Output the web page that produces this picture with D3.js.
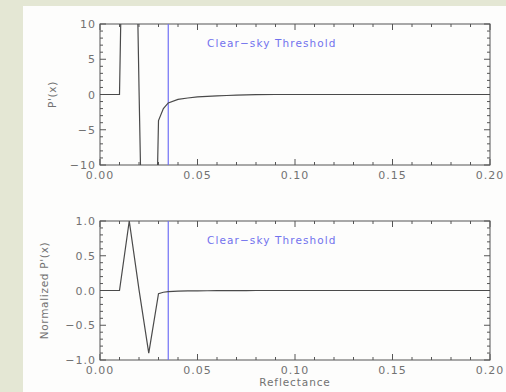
<!DOCTYPE html>
<html>
<head>
<meta charset="utf-8">
<script src="https://cdn.jsdelivr.net/npm/d3@7"></script>
<style>
  body { margin: 0; background: #fff; }
  text { font-family: 'DejaVu Sans', sans-serif; fill: #727272; }
</style>
</head>
<body>
<svg id="chart" width="506" height="392"></svg>
<script>
// reflectance samples and first derivative P'(x)
var reflectance = [0, 0.005, 0.01, 0.015, 0.02, 0.025, 0.03, 0.0325, 0.035, 0.04, 0.045, 0.05, 0.055, 0.06, 0.065, 0.07, 0.075, 0.08, 0.09, 0.10, 0.11, 0.12, 0.13, 0.14, 0.15, 0.16, 0.17, 0.18, 0.19, 0.20]
var deriv       = [0, 0, 0, 80, 1, -72, -3.7, -2.0, -1.2, -0.7, -0.5, -0.35, -0.28, -0.2, -0.14, -0.09, -0.05, -0.02, 0, 0, 0, 0, 0, 0, 0, 0, 0, 0, 0, 0]
var threshold = 0.035
var xTicks = [0, 0.05, 0.10, 0.15, 0.20]
var yTicksTop = [-10, -5, 0, 5, 10]
var yTicksBot = [-1, -0.5, 0, 0.5, 1]

var peak = d3.max(deriv)
var normalized = deriv.map(v => v / peak)

var svg = d3.select('#chart')
svg.append('rect').attr('width', 506).attr('height', 392).attr('fill', '#e4e7d4')
svg.append('rect').attr('x', 23).attr('y', 6).attr('width', 483).attr('height', 386).attr('fill', '#fdfdfc')

var x = d3.scaleLinear().domain([0, 0.2]).range([100, 490])

function panel(id, top, bottom, yDomain, yMajor, yMinorStep, yFmt, series, ylab, ylabX, showXTitle) {
  var y = d3.scaleLinear().domain(yDomain).range([bottom, top])
  var g = svg.append('g')

  g.append('clipPath').attr('id', id)
    .append('rect').attr('x', 100).attr('y', top).attr('width', 390).attr('height', bottom - top)

  // minor + major ticks on all four sides, pointing inward
  var xMinor = d3.range(0, 0.2001, 0.01)
  var yMinor = d3.range(yDomain[0], yDomain[1] + yMinorStep / 2, yMinorStep)
  var tickG = g.append('g').attr('stroke', '#555').attr('stroke-width', 1)
  xMinor.forEach(function(v, i) {
    var len = i % 5 === 0 ? 6 : 3
    tickG.append('line').attr('x1', x(v)).attr('x2', x(v)).attr('y1', bottom).attr('y2', bottom - len)
    tickG.append('line').attr('x1', x(v)).attr('x2', x(v)).attr('y1', top).attr('y2', top + len)
  })
  yMinor.forEach(function(v, i) {
    var len = i % 5 === 0 ? 6 : 3
    tickG.append('line').attr('x1', 100).attr('x2', 100 + len).attr('y1', y(v)).attr('y2', y(v))
    tickG.append('line').attr('x1', 490).attr('x2', 490 - len).attr('y1', y(v)).attr('y2', y(v))
  })

  g.append('rect').attr('x', 100).attr('y', top).attr('width', 390).attr('height', bottom - top)
    .attr('fill', 'none').attr('stroke', '#555').attr('stroke-width', 1)

  g.selectAll('.xl').data(xTicks).enter().append('text')
    .attr('x', d => x(d)).attr('y', bottom + 14)
    .attr('text-anchor', 'middle').style('font-size', '11px').style('letter-spacing', '1px')
    .text(d => d3.format('.2f')(d))

  g.selectAll('.yl').data(yMajor).enter().append('text')
    .attr('x', 96).attr('y', d => y(d) + 4)
    .attr('text-anchor', 'end').style('font-size', '11px').style('letter-spacing', '1px')
    .text(d => yFmt(d).replace('-', '\u2212'))

  g.append('text')
    .attr('transform', 'translate(' + ylabX + ',' + ((top + bottom) / 2) + ') rotate(-90)')
    .attr('text-anchor', 'middle').style('font-size', '10.5px').style('letter-spacing', '0.7px')
    .text(ylab)

  if (showXTitle) {
    g.append('text').attr('x', x(0.1)).attr('y', bottom + 26)
      .attr('text-anchor', 'middle').style('font-size', '10.5px').style('letter-spacing', '0.9px')
      .text('Reflectance')
  }

  g.append('line')
    .attr('x1', x(threshold)).attr('x2', x(threshold)).attr('y1', top).attr('y2', bottom)
    .attr('stroke', '#6f6ff5').attr('stroke-width', 1.2)

  g.append('text').attr('x', 207).attr('y', top + 23)
    .style('fill', '#7272ee').style('font-size', '10.5px').style('letter-spacing', '1.1px')
    .text('Clear\u2212sky Threshold')

  var line = d3.line().x((d, i) => x(reflectance[i])).y(d => y(d))
  g.append('path').datum(series)
    .attr('clip-path', 'url(#' + id + ')')
    .attr('d', line)
    .attr('fill', 'none').attr('stroke', '#4a4a4a').attr('stroke-width', 1.2)
}

panel('clipTop', 24, 165, [-10, 10], yTicksTop, 1, d3.format('d'), deriv, "P'(x)", 56, false)
panel('clipBot', 221, 360, [-1, 1], yTicksBot, 0.1, d3.format('.1f'), normalized, "Normalized P'(x)", 48, true)
</script>
</body>
</html>
